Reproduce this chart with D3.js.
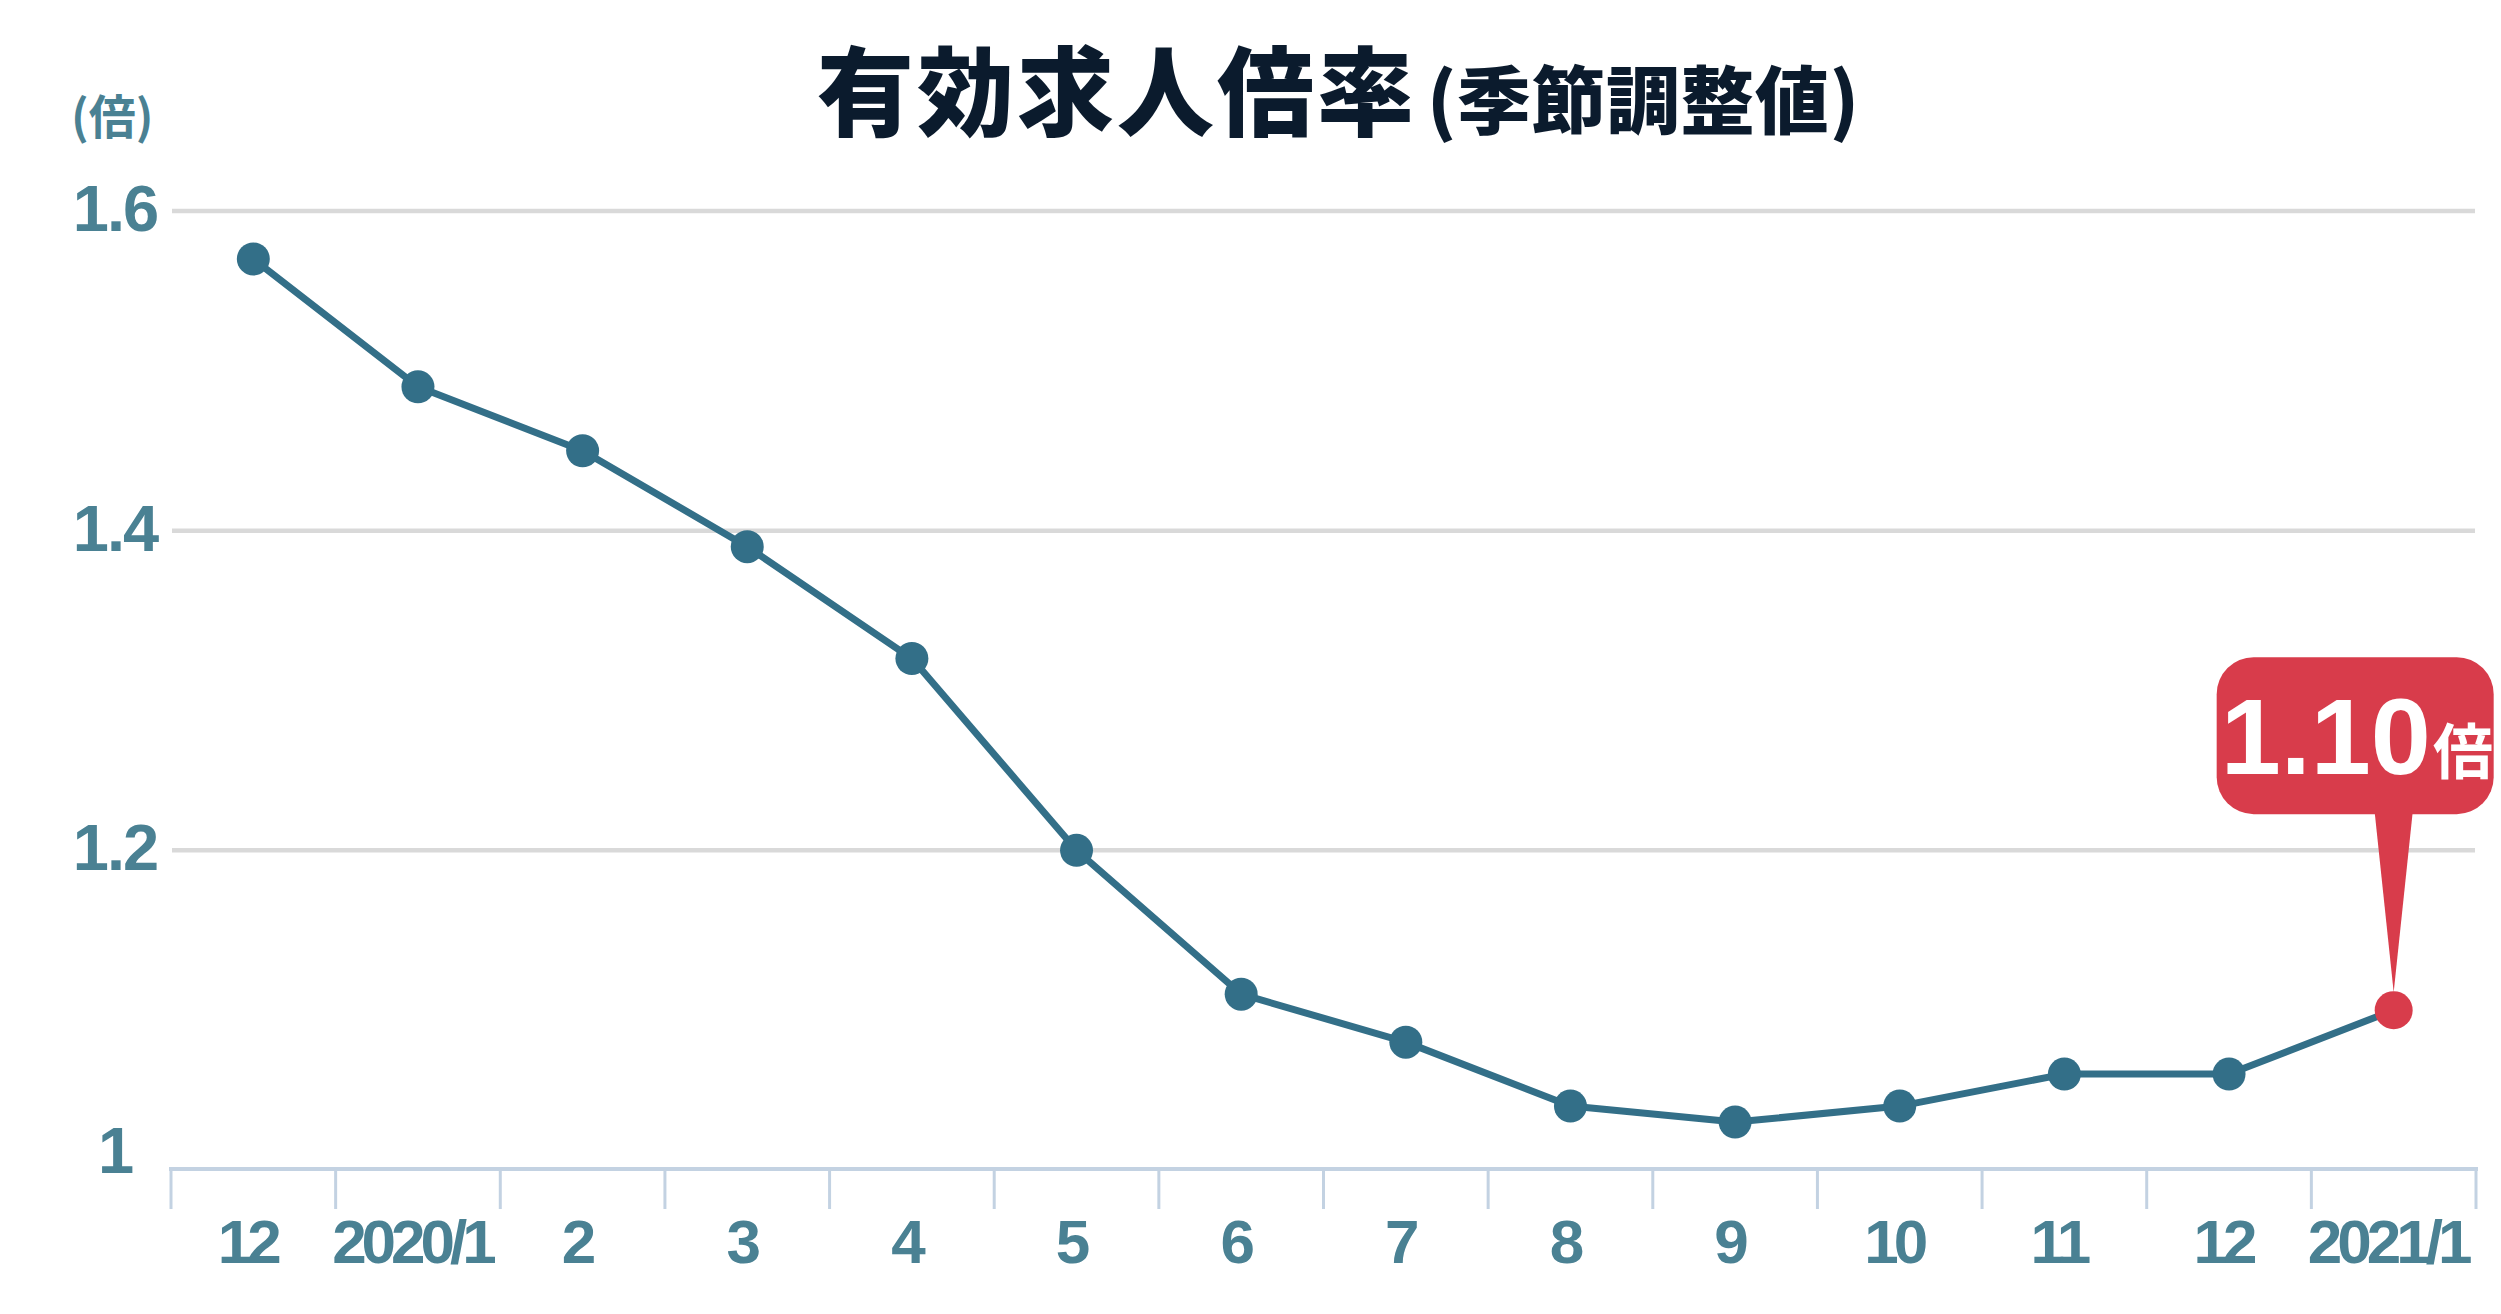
<!DOCTYPE html>
<html>
<head>
<meta charset="utf-8">
<script src="https://cdn.jsdelivr.net/npm/d3@7"></script>
<style>
  html, body { margin: 0; padding: 0; background: #ffffff; }
  svg { display: block; }
</style>
</head>
<body>
<svg id="chart" width="2501" height="1314"></svg>
<script>
// ---- data ----
const categories = ["12", "2020/1", "2", "3", "4", "5", "6", "7", "8", "9", "10", "11", "12 ", "2021/1"];
const tickLabels = ["12", "2020/1", "2", "3", "4", "5", "6", "7", "8", "9", "10", "11", "12", "2021/1"];
const values = [1.57, 1.49, 1.45, 1.39, 1.32, 1.20, 1.11, 1.08, 1.04, 1.03, 1.04, 1.06, 1.06, 1.10];
const yTicks = [1.0, 1.2, 1.4, 1.6];
const yTickLabels = ["1", "1.2", "1.4", "1.6"];
const titleMain = "有効求人倍率";
const titleSub = "(季節調整値)";
const unitLabel = "(倍)";
const calloutValue = "1.10";
const calloutUnit = "倍";

// ---- styles ----
const labelColor = "#4a8193";
const lineColor = "#336f88";
const redColor = "#d83c4b";
const gridColor = "#d9d9d9";
const axisColor = "#c3d2e2";
const latinFont = "'Liberation Sans', Arial, Helvetica, sans-serif";
const cjkFont = "'Noto Sans CJK JP', 'Noto Sans', sans-serif";

const svg = d3.select("#chart");
svg.append("rect").attr("width", 2501).attr("height", 1314).attr("fill", "#fff");

const x = d3.scaleBand().domain(categories).range([171, 2476]).padding(0);
const y = d3.scaleLinear().domain([1.0, 1.6]).range([1170, 211]);
const cx = (i) => x(categories[i]) + x.bandwidth() / 2;

// gridlines (excluding baseline)
svg.append("g").selectAll("line")
  .data(yTicks.filter(d => d > 1.0))
  .join("line")
  .attr("x1", 172).attr("x2", 2475)
  .attr("y1", d => y(d)).attr("y2", d => y(d))
  .attr("stroke", gridColor).attr("stroke-width", 4.5);

// y labels
svg.append("g").selectAll("text")
  .data(yTicks)
  .join("text")
  .attr("x", 115)
  .attr("y", d => d === 1.0 ? y(d) + 3 : y(d) + 20)
  .attr("text-anchor", "middle")
  .attr("font-family", latinFont)
  .attr("font-weight", 700)
  .attr("font-size", 65)
  .attr("letter-spacing", -2)
  .attr("fill", labelColor)
  .text((d, i) => yTickLabels[i]);

// unit label
svg.append("text")
  .attr("x", 71).attr("y", 134)
  .attr("font-family", cjkFont)
  .attr("font-weight", 700)
  .attr("font-size", 47)
  .attr("fill", labelColor)
  .text(unitLabel);

// title
const title = svg.append("text")
  .attr("x", 817).attr("y", 128)
  .attr("font-family", cjkFont)
  .attr("font-weight", 900)
  .attr("fill", "#0b1b2d");
title.append("tspan").attr("font-size", 97).attr("letter-spacing", 3).text(titleMain);
title.append("tspan").attr("font-size", 74).attr("letter-spacing", 0.5).attr("dx", 10).text(titleSub);

// x axis line
const axisY = y(1.0) - 1;
svg.append("line")
  .attr("x1", 169).attr("x2", 2478)
  .attr("y1", axisY).attr("y2", axisY)
  .attr("stroke", axisColor).attr("stroke-width", 4);

// tick marks at band boundaries
const boundaries = categories.map(c => x(c)).concat([x.range()[1]]);
svg.append("g").selectAll("line")
  .data(boundaries)
  .join("line")
  .attr("x1", d => d).attr("x2", d => d)
  .attr("y1", axisY).attr("y2", axisY + 40)
  .attr("stroke", axisColor).attr("stroke-width", 3);

// x labels
svg.append("g").selectAll("text")
  .data(tickLabels)
  .join("text")
  .attr("x", (d, i) => cx(i) - 6)
  .attr("y", 1263)
  .attr("text-anchor", "middle")
  .attr("font-family", latinFont)
  .attr("font-weight", 700)
  .attr("font-size", 62)
  .attr("letter-spacing", -5)
  .attr("fill", labelColor)
  .text(d => d);

// line
const line = d3.line()
  .x((d, i) => cx(i))
  .y(d => y(d));
svg.append("path")
  .datum(values)
  .attr("d", line)
  .attr("fill", "none")
  .attr("stroke", lineColor)
  .attr("stroke-width", 7)
  .attr("stroke-linejoin", "round");

// dots
svg.append("g").selectAll("circle")
  .data(values)
  .join("circle")
  .attr("cx", (d, i) => cx(i))
  .attr("cy", d => y(d))
  .attr("r", 16.5)
  .attr("fill", lineColor);

// callout on last point
const li = values.length - 1;
const px = cx(li), py = y(values[li]);
const boxX = px - 177, boxY = py - 353, boxW = 277, boxH = 157;
const callout = svg.append("g");
callout.append("path")
  .attr("d", `M${px - 19},${boxY + boxH - 2} L${px + 19},${boxY + boxH - 2} L${px},${py - 18} Z`)
  .attr("fill", redColor);
callout.append("rect")
  .attr("x", boxX).attr("y", boxY)
  .attr("width", boxW).attr("height", boxH)
  .attr("rx", 37).attr("ry", 37)
  .attr("fill", redColor);
callout.append("circle")
  .attr("cx", px).attr("cy", py)
  .attr("r", 19)
  .attr("fill", redColor);
const ct = callout.append("text")
  .attr("x", boxX + 4).attr("y", boxY + 117)
  .attr("fill", "#fff")
  .attr("font-weight", 700);
ct.append("tspan").attr("font-family", latinFont).attr("font-size", 108).text(calloutValue);
ct.append("tspan").attr("font-family", cjkFont).attr("font-size", 60).attr("dx", 2).text(calloutUnit);
</script>
</body>
</html>
